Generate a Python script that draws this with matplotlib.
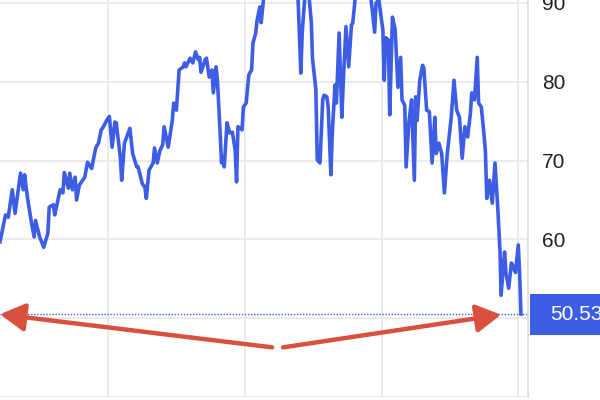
import matplotlib
matplotlib.use("Agg")
import numpy as np
from matplotlib import pyplot as plt
from matplotlib.patches import Rectangle
from matplotlib.transforms import blended_transform_factory

# DATA
START_YEAR = 2019.21
# time since start, in years
years = [
    0.00, 0.04, 0.06, 0.09, 0.11, 0.15, 0.17, 0.18, 0.20, 0.23, 0.25, 0.26, 0.29, 0.32, 0.35, 0.36,
    0.39, 0.40, 0.44, 0.46, 0.47, 0.50, 0.51, 0.53, 0.55, 0.56, 0.58, 0.62, 0.64, 0.67, 0.70, 0.72,
    0.74, 0.75, 0.78, 0.80, 0.82, 0.84, 0.85, 0.88, 0.89, 0.91, 0.95, 0.97, 1.00, 1.01, 1.04, 1.06,
    1.07, 1.09, 1.12, 1.13, 1.15, 1.17, 1.19, 1.20, 1.23, 1.26, 1.27, 1.29, 1.31, 1.34, 1.35, 1.36,
    1.39, 1.41, 1.43, 1.45, 1.46, 1.47, 1.50, 1.51, 1.53, 1.55, 1.56, 1.58, 1.59, 1.61, 1.62, 1.63,
    1.64, 1.66, 1.68, 1.70, 1.72, 1.73, 1.74, 1.77, 1.78, 1.80, 1.82, 1.84, 1.85, 1.87, 1.88, 1.90,
    1.91, 1.93, 1.96, 1.99, 2.01, 2.04, 2.07, 2.10, 2.13, 2.16, 2.18, 2.20, 2.21, 2.23, 2.26, 2.277,
    2.285, 2.31, 2.32, 2.34, 2.36, 2.37, 2.39, 2.40, 2.42, 2.43, 2.45, 2.46, 2.48, 2.50, 2.51, 2.53,
    2.55, 2.57, 2.58, 2.60, 2.63, 2.66, 2.69, 2.71, 2.72, 2.74, 2.75, 2.77, 2.80, 2.81, 2.82, 2.84,
    2.85, 2.87, 2.89, 2.91, 2.93, 2.94, 2.96, 2.97, 2.99, 3.01, 3.03, 3.04, 3.05, 3.07, 3.09, 3.10,
    3.12, 3.14, 3.16, 3.18, 3.19, 3.21, 3.23, 3.25, 3.27, 3.30, 3.32, 3.34, 3.36, 3.38, 3.40, 3.42,
    3.44, 3.45, 3.47, 3.49, 3.50, 3.52, 3.54, 3.55, 3.56, 3.58, 3.60, 3.62, 3.64, 3.657, 3.664, 3.69,
    3.70, 3.72, 3.74, 3.75, 3.77, 3.79, 3.80, 3.81,
]
prices = [
    59.7, 63.1, 62.8, 66.3, 63.3, 68.4, 66.3, 68.2, 65.4, 62.1, 60.3, 62.4, 60.3, 59.0, 60.8, 64.1,
    64.4, 63.1, 66.3, 65.9, 68.5, 66.5, 68.4, 66.3, 67.9, 65.0, 66.9, 67.9, 69.8, 69.0, 71.6, 72.2,
    73.9, 74.1, 75.1, 75.6, 71.7, 74.9, 74.8, 70.4, 67.5, 72.2, 74.1, 70.9, 69.2, 69.2, 67.1, 66.6,
    65.2, 68.8, 69.7, 71.6, 69.7, 71.3, 72.0, 74.3, 71.7, 75.1, 77.3, 76.4, 81.5, 81.9, 82.4, 81.9,
    83.0, 82.4, 83.8, 82.8, 83.1, 81.2, 82.8, 83.0, 80.6, 81.5, 78.6, 81.9, 80.2, 73.5, 69.7, 70.5,
    69.2, 74.8, 73.5, 73.6, 71.3, 67.3, 74.3, 73.9, 76.8, 77.3, 80.9, 81.5, 84.9, 86.2, 87.8, 89.5,
    87.5, 91.0, 92.3, 91.6, 92.9, 91.9, 92.7, 91.4, 92.3, 91.0, 90.4, 81.1, 86.2, 91.0, 90.8, 87.5,
    83.0, 79.0, 70.1, 69.7, 77.7, 78.3, 78.1, 76.8, 68.2, 73.5, 79.6, 77.3, 86.2, 75.5, 79.8, 87.0,
    81.9, 87.2, 87.5, 91.0, 92.3, 91.6, 91.9, 90.8, 89.5, 86.3, 90.0, 90.4, 86.6, 80.2, 85.6, 85.3,
    75.8, 88.2, 86.6, 79.3, 83.1, 77.7, 77.0, 69.2, 74.8, 77.7, 67.5, 78.1, 75.1, 80.2, 82.1, 81.7,
    76.4, 76.2, 69.7, 75.5, 70.9, 72.2, 70.9, 65.9, 70.7, 75.5, 80.2, 76.4, 75.5, 70.3, 74.3, 73.0,
    76.0, 78.6, 77.7, 83.1, 77.3, 76.8, 73.2, 71.1, 65.2, 67.5, 64.6, 69.7, 64.1, 58.3, 52.9, 58.4,
    55.7, 53.8, 57.0, 56.7, 55.8, 59.3, 55.7, 50.53,
]
last_price = prices[-1]
y_ticks = [60, 70, 80, 90]
grid_years = [2020, 2021, 2022, 2023]

# arrows: tails meet in the middle below the price line, heads point at the last price level
arrow_left = ((2021.20, 46.3), (2019.21, 50.5))
arrow_right = ((2021.28, 46.3), (2022.874, 50.45))

BLUE = "#3d5ee4"
RED = "#d9503f"
GRID = "#e8e8e8"

plt.rcParams['font.family'] = ['Liberation Sans', 'DejaVu Sans']

t = START_YEAR + np.array(years)

fig = plt.figure(figsize=(6, 4), dpi=100)
ax = fig.add_axes([0.0, 0.0075, 0.88, 0.9925])
ax.set_xlim(START_YEAR, START_YEAR + 529 / 137)
ax.set_ylim(40, 90.38)

ax.plot(t, prices, color=BLUE, lw=2.6, solid_joinstyle="round", zorder=3)
ax.axhline(last_price, color=BLUE, lw=1.0, ls=(0, (1, 1.2)), zorder=2)

# grid
for y in [40, 50] + y_ticks:
    ax.axhline(y, color=GRID, lw=1.2, zorder=0)
for g in grid_years:
    ax.axvline(g, color=GRID, lw=1.2, zorder=0)

for s in ["top", "left", "bottom"]:
    ax.spines[s].set_visible(False)
ax.spines["right"].set_color("#dcdcdc")
ax.spines["right"].set_linewidth(1.2)

ax.set_xticks([])
ax.yaxis.tick_right()
ax.set_yticks(y_ticks)
ax.tick_params(axis="y", length=0, pad=10, labelsize=15, labelcolor="#222222")

# last price label box, from the axis edge to the right border of the figure
tr = blended_transform_factory(fig.transFigure, ax.transData)
ax.add_patch(Rectangle((530 / 600, last_price - 2.6), 1 - 530 / 600, 5.2,
                       transform=tr, fc=BLUE, ec="none", clip_on=False, zorder=5))
ax.text(550 / 600, last_price, f"{last_price:.2f}", transform=tr,
        ha="left", va="center", color="white", fontsize=15, zorder=6)

for (tail, head) in [arrow_left, arrow_right]:
    ax.annotate("", xy=head, xytext=tail, annotation_clip=False,
                arrowprops=dict(arrowstyle="-|>,head_length=1.5,head_width=0.85",
                                color=RED, lw=3.2, mutation_scale=10,
                                shrinkA=0, shrinkB=0), zorder=6)

fig.savefig("out.png", dpi=100)
